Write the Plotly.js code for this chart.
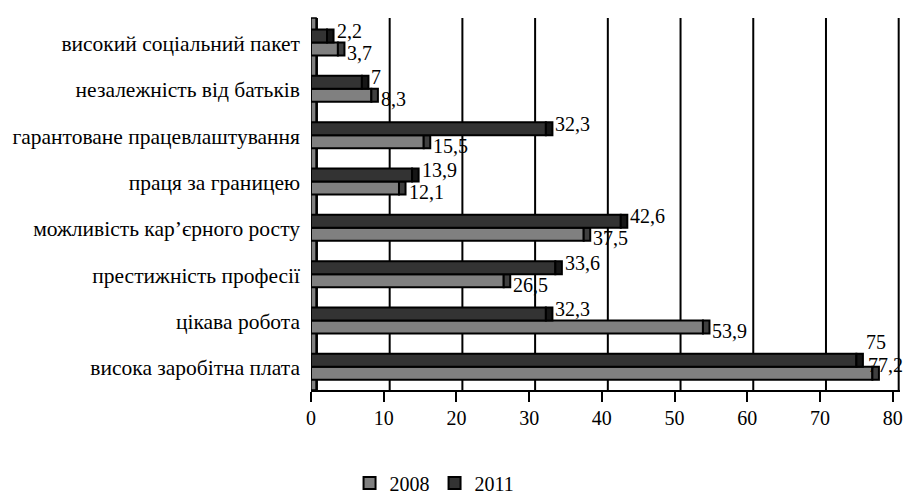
<!DOCTYPE html>
<html>
<head>
<meta charset="utf-8">
<script src="https://cdn.plot.ly/plotly-3.0.1.min.js"></script>
<style>html,body{margin:0;padding:0;background:#fff;}#chart{width:911px;height:499px;}</style>
</head>
<body>
<div id="chart"></div>
<script>
// categories listed bottom-to-top
const categories = [
  "висока заробітна плата",
  "цікава робота",
  "престижність професії",
  "можливість кар’єрного росту",
  "праця за границею",
  "гарантоване працевлаштування",
  "незалежність від батьків",
  "високий соціальний пакет"
];
const values2008 = [77.2, 53.9, 26.5, 37.5, 12.1, 15.5, 8.3, 3.7];
const values2011 = [75, 32.3, 33.6, 42.6, 13.9, 32.3, 7, 2.2];
const seriesNames = ["2008", "2011"];
const xTicks = [0, 10, 20, 30, 40, 50, 60, 70, 80];

// style settings
const FONT = "Liberation Serif";
const FS = 20;
const FS_CAT = 21.5;
const colFront = ["#808080", "#333333"];
const colCap = ["#3f3f3f", "#161616"];
const capW = 0.9;       // depth of the 3D-like bar end, in axis units
const gridShift = 0.82; // back-wall offset of gridlines, in axis units
const bargap = 0.44;
const xRange = [0, 81];
const labelRoom = 4.8;  // approx. label width in axis units, to keep labels inside

const fmt = v => String(v).replace('.', ',');
const series = [values2008, values2011];

const traces = [];
series.forEach((vals, s) => {
  traces.push({
    type: 'bar', orientation: 'h', name: seriesNames[s],
    y: categories, x: vals, offsetgroup: String(s),
    marker: {color: colFront[s], line: {color: '#000', width: 2}},
    hoverinfo: 'x+y'
  });
  traces.push({
    type: 'bar', orientation: 'h', showlegend: false,
    y: categories, x: vals.map(() => capW), base: vals, offsetgroup: String(s),
    marker: {color: colCap[s], line: {color: '#000', width: 2}},
    hoverinfo: 'skip'
  });
});

const half = (1 - bargap) / 4;
const yShiftSeries = [-4, 5];
const limit = xRange[1] - labelRoom;
const clampedCat = categories.map((c, i) => series.some(vals => vals[i] + capW > limit));
const annotations = [];
series.forEach((vals, s) => {
  vals.forEach((v, i) => {
    const clamped = v + capW > limit;
    let ys = yShiftSeries[s];
    if (clamped) ys = 8;
    else if (clampedCat[i] && s === 1) ys = 18;
    annotations.push({
      x: clamped ? limit : v + capW, y: i + (s === 0 ? -half : half),
      xref: 'x', yref: 'y', text: fmt(v), showarrow: false,
      xanchor: 'left', yanchor: 'middle', xshift: 1, yshift: ys,
      font: {family: FONT, size: FS, color: '#000'}
    });
  });
});

const shapes = [{
  type: 'rect', xref: 'x', yref: 'paper', x0: 0, x1: 0.7, y0: 0, y1: 1,
  fillcolor: '#808080', line: {color: '#000', width: 1.5}, layer: 'below'
}];
xTicks.forEach(t => {
  shapes.push({
    type: 'line', xref: 'x', yref: 'paper', x0: t + gridShift, x1: t + gridShift, y0: 0, y1: 1,
    line: {color: '#000', width: 2}, layer: 'below'
  });
});

const layout = {
  width: 911, height: 499,
  margin: {l: 311, r: 11, t: 18, b: 109},
  paper_bgcolor: '#fff', plot_bgcolor: '#fff',
  barmode: 'group', bargap: bargap, bargroupgap: 0,
  font: {family: FONT, size: FS, color: '#000'},
  xaxis: {
    range: xRange, tickvals: xTicks, ticktext: xTicks.map(String),
    showgrid: false, zeroline: false, showline: true, linecolor: '#000', linewidth: 2,
    ticks: 'outside', ticklen: 10, tickwidth: 2, tickcolor: '#000', ticklabelstandoff: -1,
    tickfont: {family: FONT, size: FS, color: '#000'}, fixedrange: true
  },
  yaxis: {
    type: 'category', showgrid: false, zeroline: false, showline: false,
    ticks: '', ticklabelstandoff: 10, ticklabelshift: 1,
    tickfont: {family: FONT, size: FS_CAT, color: '#000'}, fixedrange: true
  },
  legend: {
    orientation: 'h', xref: 'container', yref: 'container',
    x: 0.477, xanchor: 'center', y: 0.032, yanchor: 'middle',
    font: {family: FONT, size: FS, color: '#000'}, traceorder: 'normal'
  },
  shapes: shapes,
  annotations: annotations,
  showlegend: true
};

Plotly.newPlot('chart', traces, layout, {displayModeBar: false, staticPlot: true});
</script>
</body>
</html>
